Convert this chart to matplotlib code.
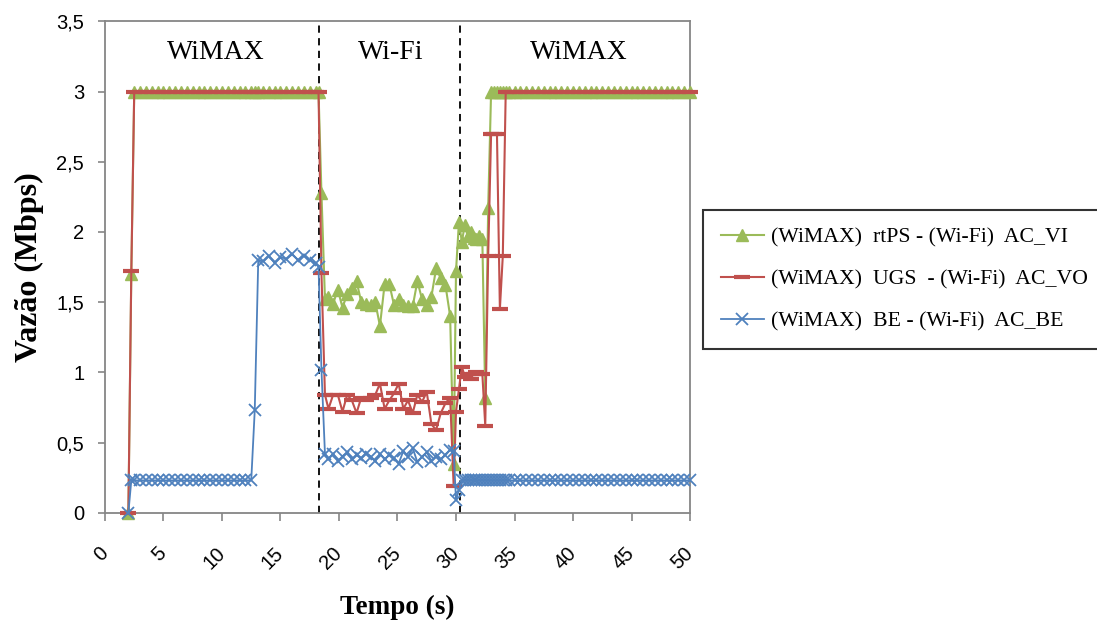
import matplotlib.pyplot as plt

# Data (time in s, throughput in Mbps)
tempo = [
    2.0, 2.25, 2.5,
    3.0, 3.5, 4.0, 4.5, 5.0, 5.5, 6.0, 6.5, 7.0, 7.5,
    8.0, 8.5, 9.0, 9.5, 10.0, 10.5, 11.0, 11.5, 12.0, 12.5,
    12.8, 13.1, 13.5, 14.0, 14.5, 15.0, 15.5, 16.0, 16.5, 17.0,
    17.5, 18.0, 18.25, 18.5, 18.8,
    19.1, 19.5, 19.9, 20.3, 20.7, 21.1, 21.5, 21.9, 22.3,
    22.7, 23.1, 23.5, 23.9, 24.3, 24.7, 25.1, 25.5, 25.9,
    26.3, 26.7, 27.1, 27.5, 27.9, 28.3, 28.7, 29.1, 29.5,
    29.8, 30.0, 30.25, 30.5, 30.75, 31.0, 31.25, 31.5, 31.75, 32.0,
    32.25, 32.5, 32.75, 33.0, 33.25, 33.5, 33.75, 34.0, 34.25, 34.5,
    35.0, 35.5, 36.0, 36.5, 37.0, 37.5, 38.0, 38.5, 39.0, 39.5,
    40.0, 40.5, 41.0, 41.5, 42.0, 42.5, 43.0, 43.5, 44.0, 44.5,
    45.0, 45.5, 46.0, 46.5, 47.0, 47.5, 48.0, 48.5, 49.0, 49.5, 50.0,
]

rtps_vi = [
    0.0, 1.70, 3.0,
    3.0, 3.0, 3.0, 3.0, 3.0, 3.0, 3.0, 3.0, 3.0, 3.0,
    3.0, 3.0, 3.0, 3.0, 3.0, 3.0, 3.0, 3.0, 3.0, 3.0,
    3.0, 3.0, 3.0, 3.0, 3.0, 3.0, 3.0, 3.0, 3.0, 3.0,
    3.0, 3.0, 3.0, 2.28, 1.52,
    1.54, 1.49, 1.59, 1.46, 1.56, 1.60, 1.65, 1.50, 1.49,
    1.48, 1.50, 1.33, 1.63, 1.63, 1.48, 1.52, 1.48, 1.47,
    1.47, 1.65, 1.52, 1.48, 1.54, 1.74, 1.67, 1.62, 1.40,
    0.35, 1.72, 2.07, 1.93, 2.05, 1.97, 2.00, 1.96, 1.95, 1.97,
    1.95, 0.82, 2.17, 3.0, 3.0, 3.0, 3.0, 3.0, 3.0, 3.0,
    3.0, 3.0, 3.0, 3.0, 3.0, 3.0, 3.0, 3.0, 3.0, 3.0,
    3.0, 3.0, 3.0, 3.0, 3.0, 3.0, 3.0, 3.0, 3.0, 3.0,
    3.0, 3.0, 3.0, 3.0, 3.0, 3.0, 3.0, 3.0, 3.0, 3.0, 3.0,
]

ugs_vo = [
    0.0, 1.72, 3.0,
    3.0, 3.0, 3.0, 3.0, 3.0, 3.0, 3.0, 3.0, 3.0, 3.0,
    3.0, 3.0, 3.0, 3.0, 3.0, 3.0, 3.0, 3.0, 3.0, 3.0,
    3.0, 3.0, 3.0, 3.0, 3.0, 3.0, 3.0, 3.0, 3.0, 3.0,
    3.0, 3.0, 3.0, 1.71, 0.84,
    0.74, 0.84, 0.84, 0.72, 0.84, 0.80, 0.71, 0.82, 0.80,
    0.82, 0.84, 0.92, 0.74, 0.80, 0.85, 0.92, 0.74, 0.80,
    0.71, 0.84, 0.79, 0.86, 0.63, 0.59, 0.71, 0.78, 0.82,
    0.19, 0.72, 0.88, 1.04, 0.97, 0.99, 0.95, 0.99, 1.00, 0.99,
    0.99, 0.62, 1.83, 2.70, 2.70, 2.70, 1.45, 1.83, 3.0, 3.0,
    3.0, 3.0, 3.0, 3.0, 3.0, 3.0, 3.0, 3.0, 3.0, 3.0,
    3.0, 3.0, 3.0, 3.0, 3.0, 3.0, 3.0, 3.0, 3.0, 3.0,
    3.0, 3.0, 3.0, 3.0, 3.0, 3.0, 3.0, 3.0, 3.0, 3.0, 3.0,
]

be_be = [
    0.0, 0.23, 0.23,
    0.23, 0.23, 0.23, 0.23, 0.23, 0.23, 0.23, 0.23, 0.23, 0.23,
    0.23, 0.23, 0.23, 0.23, 0.23, 0.23, 0.23, 0.23, 0.23, 0.23,
    0.73, 1.80, 1.79, 1.83, 1.78, 1.82, 1.81, 1.84, 1.80, 1.83,
    1.80, 1.78, 1.75, 1.02, 0.42,
    0.38, 0.42, 0.37, 0.40, 0.43, 0.38, 0.41, 0.39, 0.42,
    0.40, 0.37, 0.42, 0.38, 0.41, 0.39, 0.35, 0.44, 0.40,
    0.46, 0.36, 0.40, 0.43, 0.37, 0.40, 0.38, 0.41, 0.45,
    0.44, 0.09, 0.16, 0.23, 0.23, 0.23, 0.23, 0.23, 0.23, 0.23,
    0.23, 0.23, 0.23, 0.23, 0.23, 0.23, 0.23, 0.23, 0.23, 0.23,
    0.23, 0.23, 0.23, 0.23, 0.23, 0.23, 0.23, 0.23, 0.23, 0.23,
    0.23, 0.23, 0.23, 0.23, 0.23, 0.23, 0.23, 0.23, 0.23, 0.23,
    0.23, 0.23, 0.23, 0.23, 0.23, 0.23, 0.23, 0.23, 0.23, 0.23, 0.23,
]

labels = ["(WiMAX)  rtPS - (Wi-Fi)  AC_VI",
          "(WiMAX)  UGS  - (Wi-Fi)  AC_VO",
          "(WiMAX)  BE - (Wi-Fi)  AC_BE"]

handoffs = [18.3, 30.3]
regions = ["WiMAX", "Wi-Fi", "WiMAX"]
region_x = [9.5, 24.4, 40.5]

xticks = [0, 5, 10, 15, 20, 25, 30, 35, 40, 45, 50]
yticks = [0, 0.5, 1, 1.5, 2, 2.5, 3, 3.5]
ytick_labels = ["0", "0,5", "1", "1,5", "2", "2,5", "3", "3,5"]

SERIF = "Liberation Serif"
SANS = "Liberation Sans"
GRAY = "#868686"

fig = plt.figure(figsize=(10.97, 6.25), dpi=100)
ax = fig.add_axes([0.0957, 0.1797, 0.5333, 0.786])

ax.plot(tempo, rtps_vi, color="#9BBB59", lw=1.5, marker="^", ms=8.5,
        clip_on=False, label=labels[0], zorder=3)
ax.plot(tempo, ugs_vo, color="#C0504D", lw=1.5, marker="_", ms=11, mew=3,
        clip_on=False, label=labels[1], zorder=4)
ax.plot(tempo, be_be, color="#4F81BD", lw=1.3, marker="x", ms=8, mew=1.3,
        clip_on=False, label=labels[2], zorder=5)

# handoff instants
for h in handoffs:
    ax.axvline(h, color="k", ls=(0, (4, 3)), lw=1.3, zorder=2)

for name, xr in zip(regions, region_x):
    ax.text(xr, 3.28, name, ha="center", va="center", fontsize=20, family=SERIF)

ax.set_xlim(0, 50)
ax.set_ylim(0, 3.5)
ax.set_xticks(xticks)
ax.set_xticklabels([str(t) for t in xticks], rotation=45, ha="right",
                   va="center", rotation_mode="anchor", family=SANS, fontsize=14.5)
ax.set_yticks(yticks)
ax.set_yticklabels(ytick_labels, family=SANS, fontsize=14.5)
ax.tick_params(axis="x", direction="out", length=6, width=1.2, color=GRAY, pad=21)
ax.tick_params(axis="y", direction="out", length=5, width=1.2, color=GRAY, pad=10)
for s in ax.spines.values():
    s.set_color(GRAY)
    s.set_linewidth(1.3)

ax.set_xlabel("Tempo (s)", family=SERIF, fontsize=19.5, fontweight="bold")
ax.xaxis.label.set_va("center")
ax.xaxis.set_label_coords(0.5, -0.192)
ax.set_ylabel("Vazão (Mbps)", family=SERIF, fontsize=23, fontweight="bold")
ax.yaxis.label.set_va("center")
ax.yaxis.set_label_coords(-0.129, 0.5)

leg = fig.legend(loc="center left", bbox_to_anchor=(0.641, 0.553),
                 prop={"family": SERIF, "size": 15.7}, frameon=True,
                 fancybox=False, edgecolor="k", handlelength=2.0,
                 handletextpad=0.3, borderpad=0.8, labelspacing=1.0,
                 borderaxespad=0)
leg.get_frame().set_linewidth(1.5)

fig.savefig("out.png", dpi=100)
